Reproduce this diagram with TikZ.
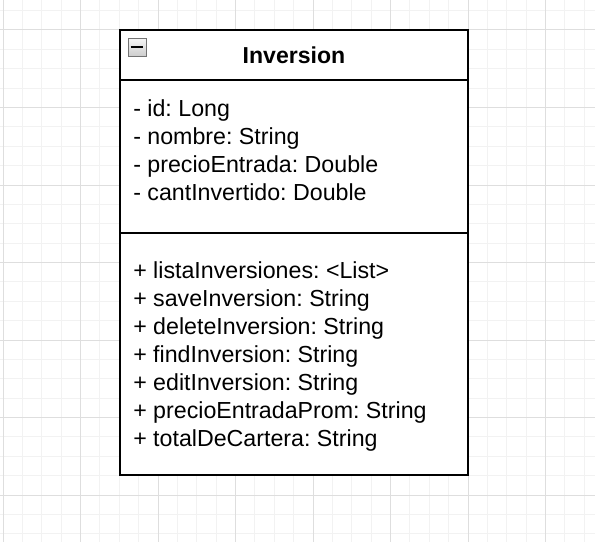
\documentclass[tikz,border=0pt]{standalone}
\usepackage{fontspec}
\setmainfont{Liberation Sans}
\usetikzlibrary{positioning}
\definecolor{gridminor}{HTML}{F2F2F2}
\definecolor{gridmajor}{HTML}{DEDEDE}
\frenchspacing

\begin{document}
\begin{tikzpicture}[x=0.75pt, y=-0.75pt, node distance=21pt,
  minorgrid/.style={line width=0.75pt, color=gridminor},
  majorgrid/.style={line width=0.75pt, color=gridmajor},
  header/.style={draw, fill=white, line width=1.5pt, outer sep=0pt, inner sep=0pt, minimum width=261pt, minimum height=37.5pt, font=\fontsize{17.3pt}{21pt}\selectfont\bfseries},
  compartment/.style={draw, fill=white, line width=1.5pt, outer sep=0pt, inner sep=0pt, minimum width=261pt},
  member/.style={inner sep=0pt, font=\fontsize{17.4pt}{21pt}\selectfont},
  foldbox/.style={draw=gray!90!black, top color=gray!8, bottom color=gray!40, line width=0.75pt, minimum size=13.5pt, inner sep=0pt}]

  \useasboundingbox (0,0) rectangle (595,542);

  % Background grid
  \foreach \k in {0,...,30} \draw[minorgrid] ({3+19.375*\k},0) -- ({3+19.375*\k},542);
  \foreach \k in {-1,...,26} \draw[minorgrid] (0,{30+19.375*\k}) -- (595,{30+19.375*\k});
  \foreach \k in {0,...,7} \draw[majorgrid] ({3+77.5*\k},0) -- ({3+77.5*\k},542);
  \foreach \k in {0,...,6} \draw[majorgrid] (0,{30+77.5*\k}) -- (595,{30+77.5*\k});

  % Class box
  \node[header, anchor=north west] (title) at (120,30) {Inversion};
  \node[compartment, below=0pt of title, minimum height=114.75pt] (attrs) {};
  \node[compartment, below=0pt of attrs, minimum height=181.5pt] (ops) {};

  % Fold icon
  \node[foldbox] (fold) at (137,47.5) {};
  \draw[line width=1.5pt] ([xshift=-4.75pt]fold.center) -- ([xshift=4.75pt]fold.center);

  % Attributes
  \node[member, anchor=base west] (a1) at (133,116) {- id: Long};
  \node[member, below=of a1.base west, anchor=base west] (a2) {- nombre: String};
  \node[member, below=of a2.base west, anchor=base west] (a3) {- precioEntrada: Double};
  \node[member, below=of a3.base west, anchor=base west] (a4) {- cantInvertido: Double};

  % Operations
  \node[member, anchor=base west] (m1) at (133,278.3) {+ listaInversiones: <List>};
  \node[member, below=of m1.base west, anchor=base west] (m2) {+ saveInversion: String};
  \node[member, below=of m2.base west, anchor=base west] (m3) {+ deleteInversion: String};
  \node[member, below=of m3.base west, anchor=base west] (m4) {+ findInversion: String};
  \node[member, below=of m4.base west, anchor=base west] (m5) {+ editInversion: String};
  \node[member, below=of m5.base west, anchor=base west] (m6) {+ precioEntradaProm: String};
  \node[member, below=of m6.base west, anchor=base west] (m7) {+ totalDeCartera: String};

\end{tikzpicture}
\end{document}
